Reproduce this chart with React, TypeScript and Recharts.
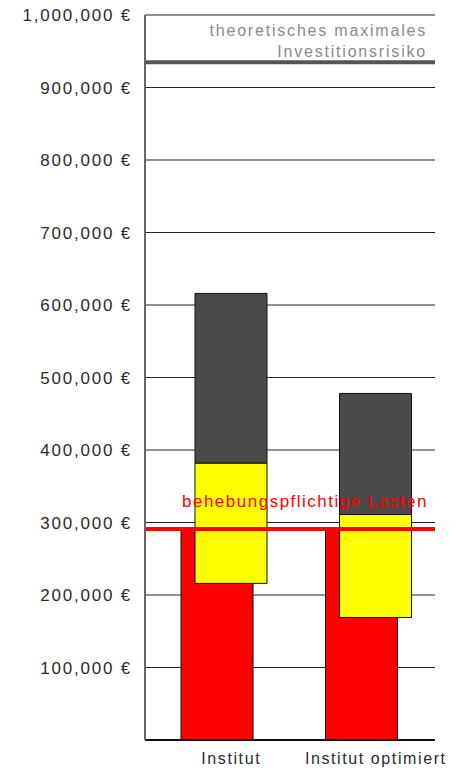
import { BarChart, Bar, XAxis, YAxis, CartesianGrid, ReferenceLine } from 'recharts'

const categories = ['Institut', 'Institut optimiert']
const behebungspflichtig = [290000, 290000]
const riskLow = [216000, 169000]
const riskMid = [382000, 311000]
const riskHigh = [616000, 478000]

const yTicks = [100000, 200000, 300000, 400000, 500000, 600000, 700000, 800000, 900000, 1000000]
const maxRisk = 935000
const lastenLine = 291000

const FONT = '"Liberation Sans", Arial, sans-serif'

const data = categories.map((name, i) => ({
  name,
  lasten: behebungspflichtig[i],
  base: riskLow[i],
  yellow: riskMid[i] - riskLow[i],
  gray: riskHigh[i] - riskMid[i],
}))

const euro = (v: number) => `${v.toLocaleString('en-US')} €`

function MaxRiskLabel({ viewBox }: any) {
  const right = viewBox.x + viewBox.width - 8
  return (
    <g fontFamily={FONT} fontSize={16} fill="#8a8a8a" letterSpacing={1.8} textAnchor="end">
      <text x={right} y={viewBox.y - 26}>theoretisches maximales</text>
      <text x={right} y={viewBox.y - 5}>Investitionsrisiko</text>
    </g>
  )
}

function LastenLabel({ viewBox }: any) {
  return (
    <text
      x={viewBox.x + viewBox.width - 7}
      y={viewBox.y - 22}
      textAnchor="end"
      fontFamily={FONT}
      fontSize={17}
      letterSpacing={1.5}
      fill="#ff0000"
    >
      behebungspflichtige Lasten
    </text>
  )
}

function CategoryTick({ x, y, payload }: any) {
  return (
    <text x={x + 7} y={y + 16} textAnchor="middle" fontFamily={FONT} fontSize={16} letterSpacing={1.6} fill="#2b2b2b">
      {payload.value}
    </text>
  )
}

export default function App() {
  return (
    <div style={{ position: 'absolute', left: 0, top: 0, background: '#fff' }}>
      <BarChart
        width={456}
        height={773}
        data={data}
        margin={{ top: 15, right: 21, left: 0, bottom: 0 }}
        barGap={-58}
        barSize={72}
      >
        <CartesianGrid vertical={false} stroke="#222" strokeWidth={1} />
        <XAxis
          dataKey="name"
          height={33}
          padding={{ left: 7, right: -6 }}
          tickLine={false}
          axisLine={{ stroke: '#111', strokeWidth: 2 }}
          tick={<CategoryTick />}
        />
        <YAxis
          width={145}
          domain={[0, 1000000]}
          ticks={yTicks}
          tickFormatter={euro}
          tickLine={false}
          tickSize={0}
          tickMargin={13}
          axisLine={{ stroke: '#666', strokeWidth: 2 }}
          tick={{ fontFamily: FONT, fontSize: 17, fill: '#2b2b2b', letterSpacing: 1.8 }}
        />
        <YAxis
          yAxisId="frame"
          orientation="right"
          width={0}
          domain={[0, 1000000]}
          tick={false}
          tickLine={false}
          axisLine={{ stroke: '#666', strokeWidth: 2 }}
        />
        {/* red base first in its own stack group so it sits left and underneath */}
        <Bar dataKey="lasten" stackId="lasten" fill="#ff0000" stroke="#111" strokeWidth={1} isAnimationActive={false} />
        <Bar dataKey="base" stackId="risk" fill="transparent" stroke="none" isAnimationActive={false} />
        <Bar dataKey="yellow" stackId="risk" fill="#ffff00" stroke="#111" strokeWidth={1} isAnimationActive={false} />
        <Bar dataKey="gray" stackId="risk" fill="#4a4a4a" stroke="#111" strokeWidth={1} isAnimationActive={false} />
        <ReferenceLine y={maxRisk} stroke="#555" strokeWidth={4} label={<MaxRiskLabel />} />
        <ReferenceLine y={lastenLine} stroke="#ff0000" strokeWidth={4} label={<LastenLabel />} />
      </BarChart>
    </div>
  )
}
